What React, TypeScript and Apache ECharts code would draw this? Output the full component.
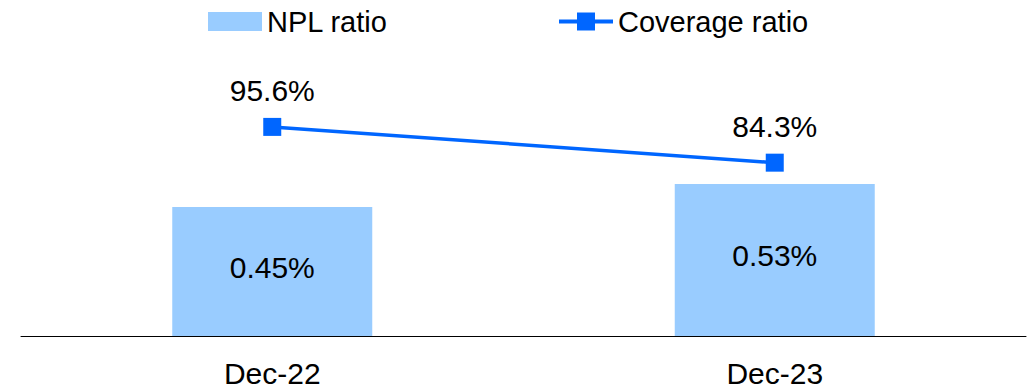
import React, { useEffect, useRef } from "react";
import * as echarts from "echarts";

const categories = ["Dec-22", "Dec-23"];
const nplRatio = [0.45, 0.53];
const coverageRatio = [95.6, 84.3];

const FONT = "'Liberation Sans', Arial, sans-serif";

export default function App() {
  const ref = useRef<HTMLDivElement>(null);
  useEffect(() => {
    document.body.style.margin = "0";
    const chart = echarts.init(ref.current!, null, { renderer: "svg" });
    const legendText = { fontSize: 29, color: "#000", fontFamily: FONT };
    chart.setOption({
      animation: false,
      backgroundColor: "#ffffff",
      textStyle: { fontFamily: FONT, color: "#000" },
      legend: [
        {
          top: 2,
          left: 203,
          itemWidth: 54,
          itemHeight: 19,
          textStyle: legendText,
          data: [{ name: "NPL ratio", icon: "rect" }],
        },
        {
          top: 2,
          left: 552,
          itemWidth: 54,
          itemHeight: 22.5,
          textStyle: legendText,
          data: [{ name: "Coverage ratio", lineStyle: { width: 4 } }],
        },
      ],
      grid: { left: 21, right: 2, top: 40, bottom: 50 },
      xAxis: {
        type: "category",
        data: categories,
        axisLine: { lineStyle: { color: "#000", width: 1 } },
        axisTick: { show: false },
        axisLabel: { fontSize: 30, color: "#000", margin: 22, fontFamily: FONT },
      },
      yAxis: [
        { type: "value", min: 0, max: 1.032, show: false, splitLine: { show: false } },
        { type: "value", min: 29.53, max: 123.06, show: false, splitLine: { show: false } },
      ],
      series: [
        {
          name: "NPL ratio",
          type: "bar",
          yAxisIndex: 0,
          data: nplRatio,
          barWidth: 200,
          itemStyle: { color: "#99CCFF" },
          label: {
            show: true,
            position: "inside",
            offset: [0, -4],
            fontSize: 30,
            color: "#000",
            fontFamily: FONT,
            formatter: (p: any) => p.value.toFixed(2) + "%",
          },
        },
        {
          name: "Coverage ratio",
          type: "line",
          yAxisIndex: 1,
          data: coverageRatio,
          symbol: "rect",
          symbolSize: 18,
          lineStyle: { color: "#0066FF", width: 3.5 },
          itemStyle: { color: "#0066FF" },
          label: {
            show: true,
            position: "top",
            distance: 12,
            fontSize: 30,
            color: "#000",
            fontFamily: FONT,
            formatter: (p: any) => p.value.toFixed(1) + "%",
          },
        },
      ],
    });
    return () => chart.dispose();
  }, []);
  return (
    <div
      ref={ref}
      style={{ position: "absolute", left: 0, top: 0, width: 1028, height: 388 }}
    />
  );
}
